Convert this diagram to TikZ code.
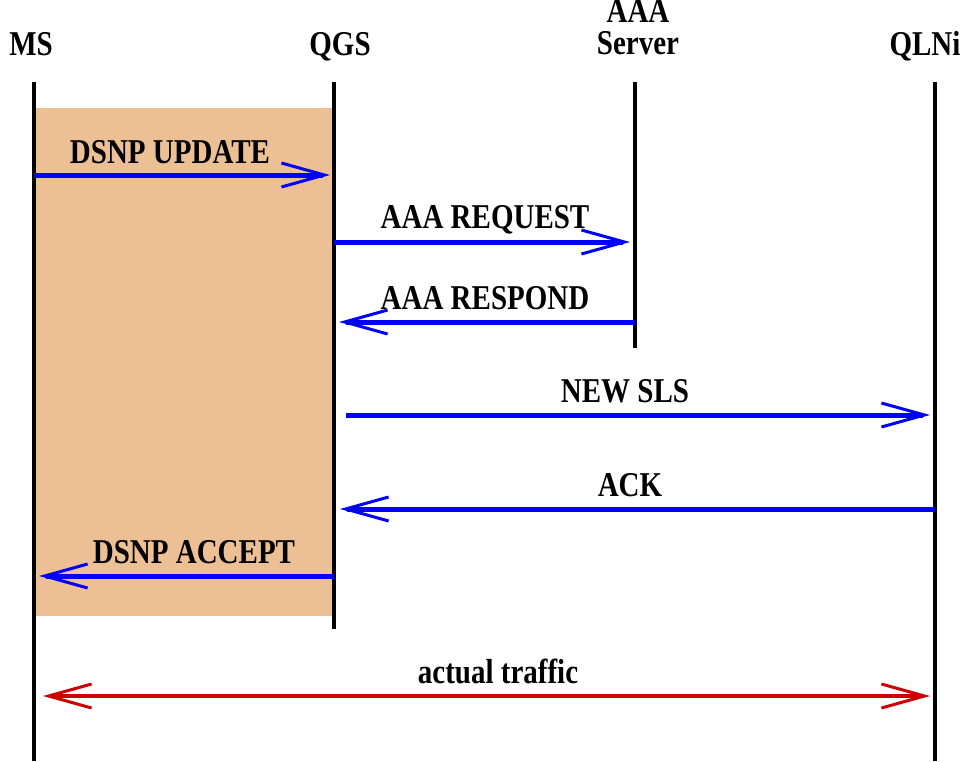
\documentclass[tikz,border=0pt]{standalone}
\usepackage{fontspec}
\setmainfont{Liberation Serif}
\usetikzlibrary{arrows.meta}
\definecolor{zonefill}{RGB}{236,192,148}
\definecolor{msgblue}{RGB}{0,0,255}
\definecolor{trafficred}{RGB}{204,0,0}
\newcommand{\tall}[1]{\scalebox{1}[1.2]{#1}}
\tikzset{
  barb/.tip={Straight Barb[length=43pt, width=24pt, line width=3pt]},
  lbl/.style={anchor=base, inner sep=0pt, font=\bfseries\fontsize{29}{22.5}\selectfont},
  lifeline/.style={line width=4pt, black},
  msg/.style={line width=5pt, msgblue, -barb},
  traffic/.style={line width=4pt, trafficred, barb-barb}
}
\begin{document}
\begin{tikzpicture}[x=1pt, y=-1pt]
\useasboundingbox (0,0) rectangle (972,761);

% shaded exchange zone between MS and QGS
\fill[zonefill] (34,108) rectangle (334,616);

% entity headers
\node[lbl] (ms)  at (31,55)  {\tall{MS}};
\node[lbl] (qgs) at (340,55) {\tall{QGS}};
\node[lbl] (aaa) at (638,54) {\tall{\begin{tabular}[b]{@{}c@{}}AAA\\Server\end{tabular}}};
\node[lbl] (qln) at (925,55) {\tall{QLNi}};

% lifelines
\coordinate (ms-top)  at (34,82);  \coordinate (ms-bot)  at (34,761);
\coordinate (qgs-top) at (334,82); \coordinate (qgs-bot) at (334,629);
\coordinate (aaa-top) at (635,82); \coordinate (aaa-bot) at (635,348);
\coordinate (qln-top) at (935,82); \coordinate (qln-bot) at (935,761);
\draw[lifeline] (ms-top) -- (ms-bot);
\draw[lifeline] (qgs-top) -- (qgs-bot);
\draw[lifeline] (aaa-top) -- (aaa-bot);
\draw[lifeline] (qln-top) -- (qln-bot);

% message end points
\coordinate (up-s)  at (34,175);  \coordinate (up-e)  at (330,175);
\coordinate (req-s) at (334,242); \coordinate (req-e) at (630,242);
\coordinate (rsp-s) at (635,322); \coordinate (rsp-e) at (339,322);
\coordinate (sls-s) at (346,415); \coordinate (sls-e) at (930,415);
\coordinate (ack-s) at (935,509); \coordinate (ack-e) at (340,509);
\coordinate (acc-s) at (334,576); \coordinate (acc-e) at (39,576);
\coordinate (tr-s)  at (43,696);  \coordinate (tr-e)  at (930,696);

% messages
\draw[msg] (up-s) -- (up-e);
\node[lbl] (l-up) at (170,163) {\tall{DSNP UPDATE}};
\draw[msg] (req-s) -- (req-e);
\node[lbl] (l-req) at (485,228) {\tall{AAA REQUEST}};
\draw[msg] (rsp-s) -- (rsp-e);
\node[lbl] (l-rsp) at (485,309) {\tall{AAA RESPOND}};
\draw[msg] (sls-s) -- (sls-e);
\node[lbl] (l-sls) at (625,402) {\tall{NEW SLS}};
\draw[msg] (ack-s) -- (ack-e);
\node[lbl] (l-ack) at (630,496) {\tall{ACK}};
\draw[msg] (acc-s) -- (acc-e);
\node[lbl] (l-acc) at (194,563) {\tall{DSNP ACCEPT}};

% end-to-end traffic
\draw[traffic] (tr-s) -- (tr-e);
\node[lbl] (l-tr) at (498,683) {\tall{actual traffic}};
\end{tikzpicture}
\end{document}
